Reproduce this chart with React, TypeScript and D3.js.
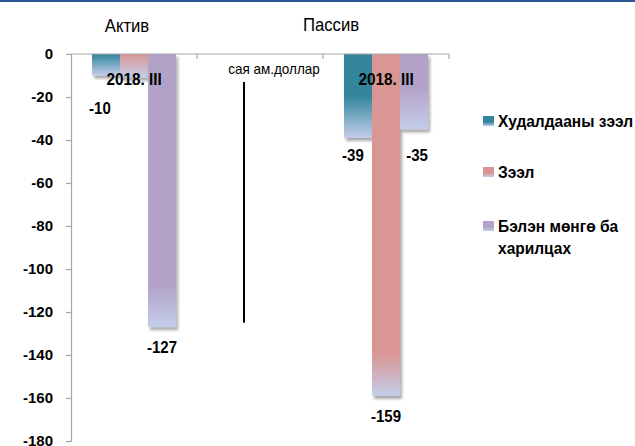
import React, { useEffect, useRef } from "react";
import * as d3 from "d3";

// categories on the x axis (middle one is an empty spacer)
const categories = ["Актив", "", "Пассив"];
const categoryLabels = ["2018. III", "", "2018. III"];
const series = ["Худалдааны зээл", "Зээл", "Бэлэн мөнгө ба харилцах"];
const seriesColors = ["#31859c", "#d99694", "#b3a2c7"];
const fadeColor = "#c4cdea";

// values per category, one entry per series
const aktivValues = [-10, -11, -127];
const spacerValues: (number | null)[] = [null, null, null];
const passivValues = [-39, -159, -35];

// which bars show a data label
const aktivLabels = [true, false, true];
const passivLabels = [true, true, true];

const yTicks = [0, -20, -40, -60, -80, -100, -120, -140, -160, -180];

const W = 635;
const H = 446;

const App: React.FC = () => {
  const svgRef = useRef<SVGSVGElement | null>(null);

  useEffect(() => {
    if (!svgRef.current) return;
    const svg = d3.select(svgRef.current);
    svg.selectAll("*").remove();

    const margin = { top: 54, left: 71, right: 186, bottom: 5 };
    const font = "'Liberation Sans', Arial, sans-serif";

    const x = d3.scaleBand<string>()
      .domain(categories.map((c, i) => String(i)))
      .range([margin.left, W - margin.right])
      .paddingInner(0)
      .paddingOuter(0);

    const groupW = x.bandwidth() * 0.667;
    const xSub = d3.scaleBand<string>()
      .domain(series)
      .range([(x.bandwidth() - groupW) / 2, (x.bandwidth() + groupW) / 2]);

    const y = d3.scaleLinear().domain([-180, 0]).range([H - margin.bottom, margin.top]);

    const defs = svg.append("defs");
    const shadow = defs.append("filter").attr("id", "shadow")
      .attr("x", "-20%").attr("y", "-10%").attr("width", "150%").attr("height", "130%");
    shadow.append("feDropShadow")
      .attr("dx", 2).attr("dy", 3).attr("stdDeviation", 1.5)
      .attr("flood-color", "#000").attr("flood-opacity", 0.35);

    // top frame line
    svg.append("rect").attr("x", 0).attr("y", 0).attr("width", W).attr("height", 2)
      .attr("fill", "#2b5797");

    const rows = [aktivValues, spacerValues, passivValues];
    const labelRows = [aktivLabels, [false, false, false], passivLabels];

    // bars
    rows.forEach((vals, ci) => {
      vals.forEach((v, si) => {
        if (v == null) return;
        const x0 = x(String(ci))! + xSub(series[si])!;
        const y0 = y(0);
        const y1 = y(v);
        const h = y1 - y0;
        const gid = `g${ci}_${si}`;
        const g = defs.append("linearGradient").attr("id", gid)
          .attr("x1", 0).attr("y1", 0).attr("x2", 0).attr("y2", 1);
        const start = Math.max(0, 1 - 42 / h);
        g.append("stop").attr("offset", 0).attr("stop-color", seriesColors[si]);
        g.append("stop").attr("offset", start).attr("stop-color", seriesColors[si]);
        g.append("stop").attr("offset", 1).attr("stop-color", fadeColor);
        svg.append("rect")
          .attr("x", x0).attr("y", y0)
          .attr("width", xSub.bandwidth()).attr("height", h)
          .attr("fill", `url(#${gid})`)
          .attr("filter", "url(#shadow)");
      });
    });

    // top (zero) axis with category boundary ticks
    svg.append("line")
      .attr("x1", margin.left).attr("x2", W - margin.right)
      .attr("y1", y(0)).attr("y2", y(0))
      .attr("stroke", "#a6a6a6").attr("stroke-width", 1.2);
    categories.forEach((c, i) => {
      const bx = x(String(i))! + x.bandwidth();
      svg.append("line")
        .attr("x1", bx).attr("x2", bx).attr("y1", y(0)).attr("y2", y(0) + 5)
        .attr("stroke", "#a6a6a6").attr("stroke-width", 1.2);
    });

    // y axis
    const yAxis = svg.append("g")
      .attr("transform", `translate(${margin.left},0)`)
      .call(d3.axisLeft(y).tickValues(yTicks).tickSize(5).tickPadding(13)
        .tickFormat(d => String(d)));
    yAxis.select(".domain").attr("stroke", "#a6a6a6").attr("stroke-width", 1.2);
    yAxis.selectAll(".tick line").attr("stroke", "#a6a6a6").attr("stroke-width", 1.2);
    yAxis.selectAll(".tick text")
      .attr("font-family", font).attr("font-size", 15).attr("font-weight", "bold")
      .attr("fill", "#000");

    // category labels inside the bars
    categoryLabels.forEach((lab, i) => {
      if (!lab) return;
      const cx = x(String(i))! + x.bandwidth() / 2;
      svg.append("text")
        .attr("transform", `translate(${cx},${y(0) + 31}) scale(0.9,1)`)
        .attr("text-anchor", "middle")
        .attr("font-family", font).attr("font-size", 17).attr("font-weight", "bold")
        .attr("fill", "#000")
        .text(lab);
    });

    // data labels
    rows.forEach((vals, ci) => {
      vals.forEach((v, si) => {
        if (v == null || !labelRows[ci][si]) return;
        let cx = x(String(ci))! + xSub(series[si])! + xSub.bandwidth() / 2;
        let ty = y(v) + 26;
        if (ci === 0 && si === 0) { cx -= 6; ty = y(v) + 38; }
        if (ci === 2 && si === 2) { cx += 3; ty = y(-39) + 23; }
        if (ci === 2 && si === 0) { cx -= 5; ty = y(v) + 23; }
        svg.append("text")
          .attr("transform", `translate(${cx},${ty}) scale(0.94,1)`)
          .attr("text-anchor", "middle")
          .attr("font-family", font).attr("font-size", 16).attr("font-weight", "bold")
          .attr("fill", "#000")
          .text(String(v));
      });
    });

    // headers
    const headerX = [x("0")! + x.bandwidth() / 2 - 7, x("2")! + x.bandwidth() / 2 - 55];
    [categories[0], categories[2]].forEach((c, i) => {
      svg.append("text")
        .attr("transform", `translate(${headerX[i]},${32 - i}) scale(0.88,1)`)
        .attr("text-anchor", "middle")
        .attr("font-family", font).attr("font-size", 19)
        .attr("fill", "#000")
        .text(c);
    });

    // unit note and marker line
    const midX = x("1")! + x.bandwidth() / 2;
    svg.append("text")
      .attr("transform", `translate(${midX + 14},${y(0) + 20}) scale(0.9,1)`)
      .attr("text-anchor", "middle")
      .attr("font-family", font).attr("font-size", 15)
      .attr("fill", "#000")
      .text("сая ам.доллар");
    svg.append("line")
      .attr("x1", midX - 16).attr("x2", midX - 16)
      .attr("y1", y(-13)).attr("y2", y(-125))
      .attr("stroke", "#000").attr("stroke-width", 2);

    // legend
    const legendX = 483;
    const legendRowsY = [121, 172, 226];
    series.forEach((s, i) => {
      const gid = `lg${i}`;
      const g = defs.append("linearGradient").attr("id", gid)
        .attr("x1", 0).attr("y1", 0).attr("x2", 0).attr("y2", 1);
      g.append("stop").attr("offset", 0).attr("stop-color", seriesColors[i]);
      g.append("stop").attr("offset", 0.6).attr("stop-color", seriesColors[i]);
      g.append("stop").attr("offset", 1).attr("stop-color", fadeColor);
      svg.append("rect")
        .attr("x", legendX).attr("y", legendRowsY[i] - 5)
        .attr("width", 11).attr("height", 10)
        .attr("fill", `url(#${gid})`);
      const words = i === 2 ? ["Бэлэн мөнгө ба", "харилцах"] : [s];
      words.forEach((w, k) => {
        svg.append("text")
          .attr("transform", `translate(${legendX + 15},${legendRowsY[i] + 6 + k * 22}) scale(0.97,1)`)
          .attr("font-family", font).attr("font-size", 16).attr("font-weight", "bold")
          .attr("fill", "#000")
          .text(w);
      });
    });
  }, []);

  return (
    <svg
      ref={svgRef}
      width={W}
      height={H}
      style={{ position: "absolute", left: 0, top: 0, background: "#fff" }}
    />
  );
};

export default App;
